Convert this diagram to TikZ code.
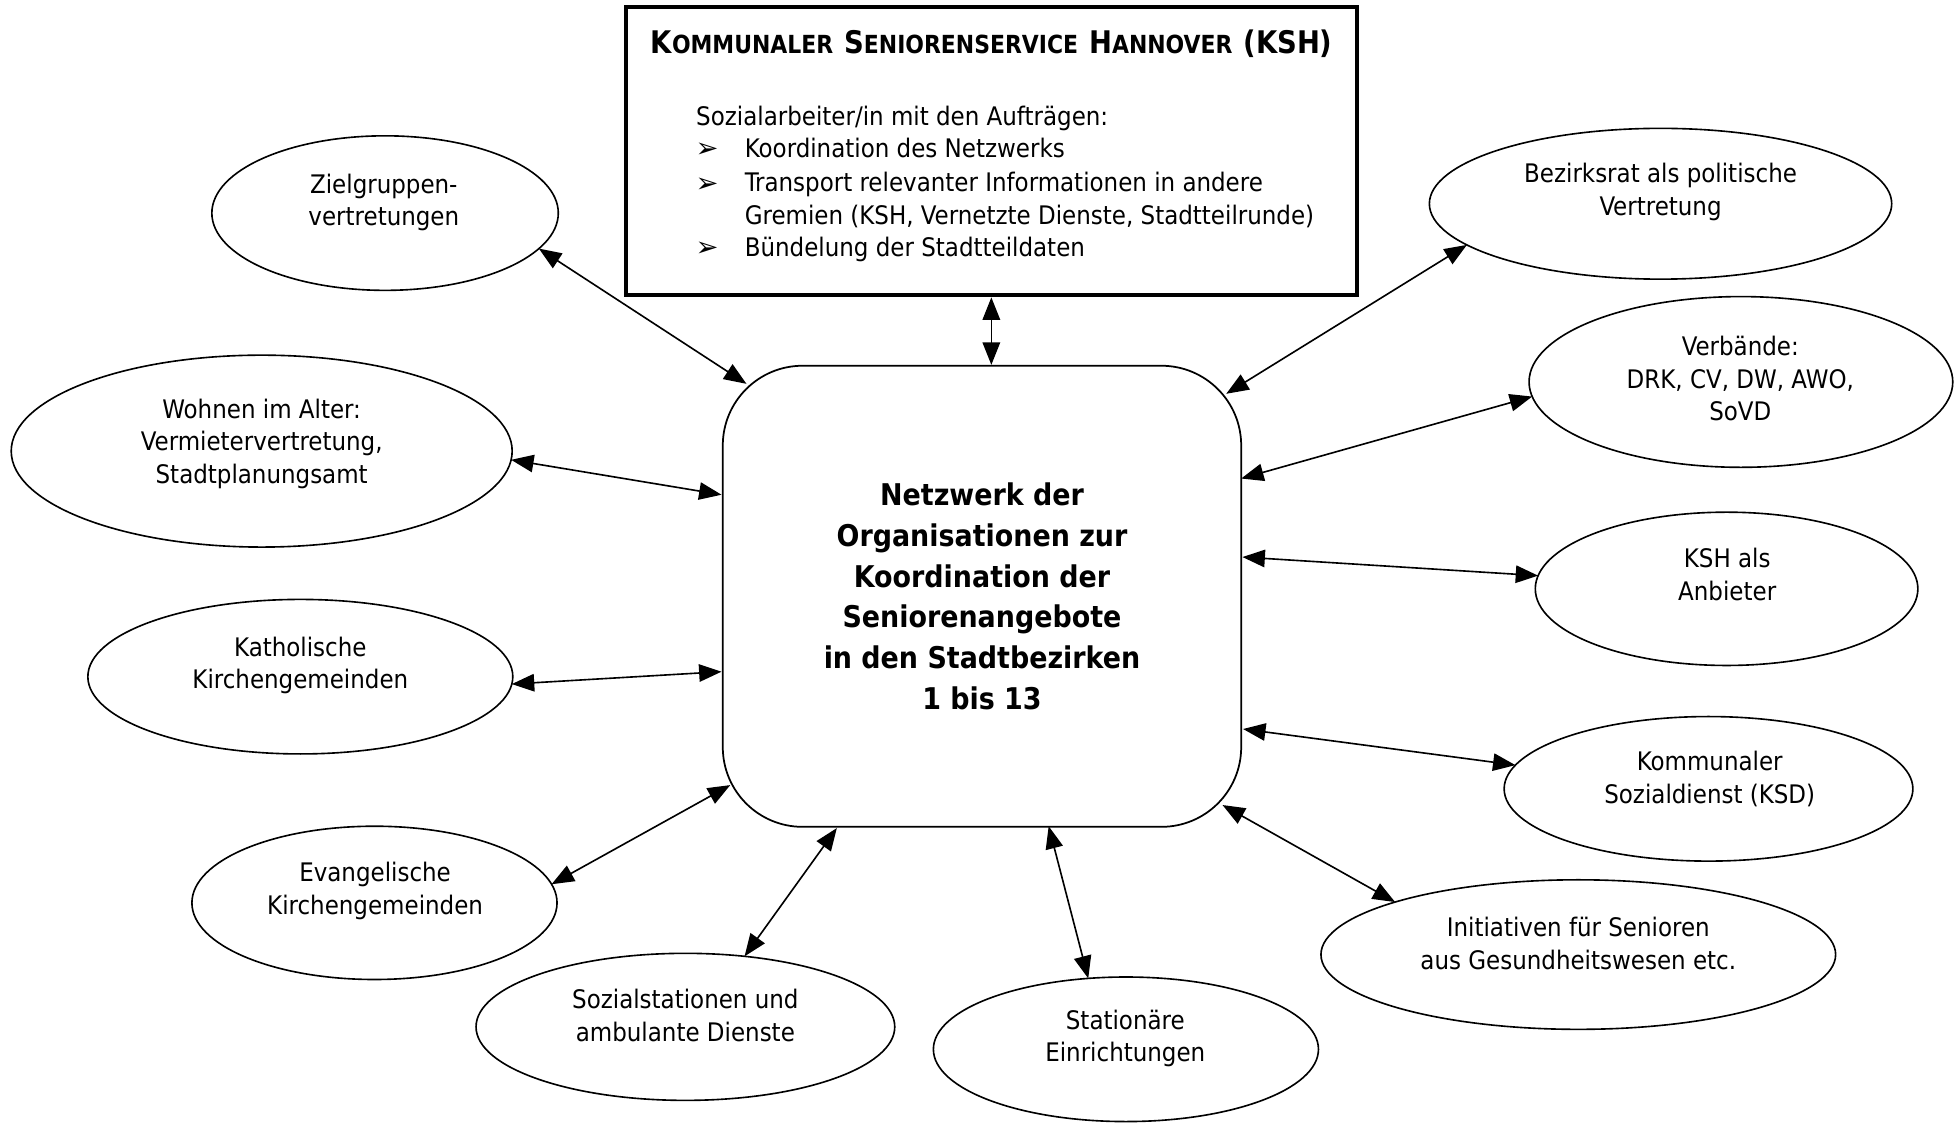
\documentclass[tikz,border=0pt]{standalone}
\usepackage{fontspec}
\usepackage{graphicx}
\setmainfont{DejaVu Sans Condensed}[BoldFont={DejaVu Sans Condensed Bold}]
\newfontfamily\symfont{DejaVu Sans}
\usetikzlibrary{shapes.geometric,arrows.meta,calc}
\newcommand{\scpart}[2]{{\fontsize{25}{30}\selectfont #1}{\fontsize{20}{30}\selectfont #2}}
\begin{document}
\begin{tikzpicture}[x=1pt,y=-1pt,
  ell/.style={draw, line width=1.3pt, ellipse, inner sep=0pt, outer sep=0pt},
  lbl/.style={inner sep=0pt, align=center, font=\fontsize{20.5}{26}\selectfont},
  boxtxt/.style={inner sep=0pt, anchor=base west, font=\fontsize{20.5}{26}\selectfont},
  bul/.style={inner sep=0pt, anchor=base west, font=\symfont\fontsize{22}{24}\selectfont},
  conn/.style={line width=1.3pt, {Triangle[length=18pt,width=14pt]}-{Triangle[length=18pt,width=14pt]}}]
\useasboundingbox (0,0) rectangle (1568,901);

% top box
\node[draw, line width=3.2pt, minimum width=587pt, minimum height=231pt, inner sep=0pt] (top) at (795.5,121.5) {};
\node[inner sep=0pt, anchor=base west, font=\bfseries] (title) at (522,43)
  {\resizebox{547pt}{\height}{\scpart{K}{OMMUNALER}\hspace{9pt}\scpart{S}{ENIORENSERVICE}\hspace{9pt}\scpart{H}{ANNOVER}\hspace{9pt}{\fontsize{25}{30}\selectfont(KSH)}}};
\node[boxtxt] (l0) at (558.5,100.5) {Sozialarbeiter/in mit den Aufträgen:};
\node[bul] (b1) at (558,126.5) {➢};
\node[boxtxt] (l1) at (597.5,126) {Koordination des Netzwerks};
\node[bul] (b2) at (558,154.5) {➢};
\node[boxtxt] (l2) at (597.5,154) {Transport relevanter Informationen in andere};
\node[boxtxt] (l3) at (597.5,180) {Gremien (KSH, Vernetzte Dienste, Stadtteilrunde)};
\node[bul] (b3) at (558,206) {➢};
\node[boxtxt] (l4) at (597.5,205.5) {Bündelung der Stadtteildaten};

% central box
\node[draw, line width=1.4pt, rounded corners=64pt, minimum width=416pt, minimum height=370pt, inner sep=0pt,
      align=center, font=\bfseries\fontsize{24}{32.7}\selectfont] (box) at (788,478.5)
  {Netzwerk der\\Organisationen zur\\Koordination der\\Seniorenangebote\\in den Stadtbezirken\\1 bis 13};

% ellipses
\node[ell, minimum width=278pt, minimum height=124pt] (Z) at (309,171) {};
\node[lbl] (Zt) at (308,162.5) {Zielgruppen-\\vertretungen};
\node[ell, minimum width=402pt, minimum height=154pt] (W) at (210,362) {};
\node[lbl] (Wt) at (210,356) {Wohnen im Alter:\\Vermietervertretung,\\Stadtplanungsamt};
\node[ell, minimum width=341pt, minimum height=124pt] (K) at (241,543) {};
\node[lbl] (Kt) at (241,534) {Katholische\\Kirchengemeinden};
\node[ell, minimum width=293pt, minimum height=123pt] (E) at (300.5,724.5) {};
\node[lbl] (Et) at (301,715) {Evangelische\\Kirchengemeinden};
\node[ell, minimum width=336pt, minimum height=118pt] (S) at (550,824) {};
\node[lbl] (St) at (550,815) {Sozialstationen und\\ambulante Dienste};
\node[ell, minimum width=309pt, minimum height=116pt] (SE) at (903.5,842) {};
\node[lbl] (SEt) at (903,833.5) {Stationäre\\Einrichtungen};
\node[ell, minimum width=413pt, minimum height=120pt] (I) at (1266.5,766) {};
\node[lbl] (It) at (1266.5,757) {Initiativen für Senioren\\aus Gesundheitswesen etc.};
\node[ell, minimum width=328pt, minimum height=116pt] (D) at (1371,633) {};
\node[lbl] (Dt) at (1372,625) {Kommunaler\\Sozialdienst (KSD)};
\node[ell, minimum width=307pt, minimum height=123pt] (A) at (1385.5,472.5) {};
\node[lbl] (At) at (1386,461) {KSH als\\Anbieter};
\node[ell, minimum width=340pt, minimum height=137pt] (V) at (1397,306.5) {};
\node[lbl] (Vt) at (1396.5,304) {Verbände:\\DRK, CV, DW, AWO,\\SoVD};
\node[ell, minimum width=371pt, minimum height=121pt] (B) at (1332.5,163.5) {};
\node[lbl] (Bt) at (1332.5,154) {Bezirksrat als politische\\Vertretung};

% connectors
\draw[conn] (top.south) -- (top.south |- box.north);
\draw[conn] (Z.-13.7) -- ($(box.center)+(-189,-170.5)$);
\draw[conn] (W.-2.6) -- ($(box.center)+(-209,-81.5)$);
\draw[conn] (K.-2.2) -- ($(box.center)+(-209,60.5)$);
\draw[conn] (E.6.65) -- ($(box.center)+(-202,151.5)$);
\draw[conn] (S.50.3) -- ($(box.center)+(-116.5,186)$);
\draw[conn] (SE.118.9) -- ($(box.center)+(53.5,184.5)$);
\draw[conn] (I.164.2) -- ($(box.center)+(193,167.5)$);
\draw[conn] (D.173.6) -- ($(box.center)+(209.5,106.5)$);
\draw[conn] (A.176.1) -- ($(box.center)+(209,-31.5)$);
\draw[conn] (V.184.3) -- ($(box.center)+(208,-94.5)$);
\draw[conn] (B.192.9) -- ($(box.center)+(196,-162.5)$);
\end{tikzpicture}
\end{document}
